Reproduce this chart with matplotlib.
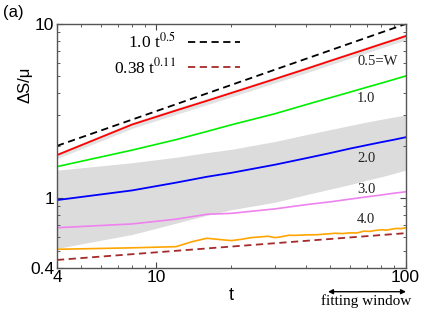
import numpy as np
import matplotlib
matplotlib.use("Agg")
import matplotlib.pyplot as plt
from matplotlib.ticker import FixedLocator, NullFormatter

plt.rcParams['font.family'] = ['Liberation Sans', 'DejaVu Sans']
plt.rcParams['mathtext.fontset'] = 'stix'

# data
t_grid = [4, 8, 12, 16, 20, 30, 40, 50, 60, 70, 80, 90, 100]
red = [1.77, 2.65, 3.19, 3.63, 4.02, 4.84, 5.53, 6.15, 6.70, 7.20, 7.67, 8.10, 8.52]
green = [1.52, 1.89, 2.17, 2.42, 2.64, 3.06, 3.45, 3.78, 4.07, 4.34, 4.58, 4.81, 5.03]
blue = [0.977, 1.11, 1.23, 1.33, 1.40, 1.56, 1.70, 1.82, 1.93, 2.02, 2.10, 2.17, 2.24]
violet = [0.678, 0.713, 0.759, 0.81, 0.82, 0.87, 0.92, 0.955, 0.99, 1.02, 1.045, 1.07, 1.09]
band_hi = [1.45, 1.60, 1.72, 1.83, 1.91, 2.12, 2.32, 2.48, 2.62, 2.74, 2.84, 2.93, 3.00]
band_lo = [0.516, 0.62, 0.72, 0.80, 0.86, 0.95, 1.05, 1.13, 1.20, 1.27, 1.33, 1.39, 1.45]
red_hi = [1.82, 2.73, 3.29, 3.74, 4.14, 4.98, 5.70, 6.33, 6.90, 7.42, 7.90, 8.34, 8.78]
red_lo = [1.69, 2.52, 3.03, 3.45, 3.82, 4.60, 5.25, 5.84, 6.37, 6.84, 7.29, 7.70, 8.09]

t_orange = [4, 8, 12, 14, 16, 18, 20, 22, 24, 26, 28, 30, 32, 34, 36, 40, 44, 48,
            52, 56, 60, 64, 68, 72, 76, 80, 84, 88, 92, 96, 100]
orange = [0.51, 0.52, 0.528, 0.565, 0.59, 0.58, 0.572, 0.582, 0.595, 0.60, 0.606, 0.595,
          0.603, 0.614, 0.613, 0.617, 0.618, 0.624, 0.63, 0.628, 0.634, 0.633, 0.648, 0.646,
          0.655, 0.66, 0.657, 0.665, 0.672, 0.67, 0.678]

fit_t = [4, 100]
fit_black = [2.0, 10.0]
fit_brown = [0.443, 0.631]

curve_labels = ['0.5=W', '1.0', '2.0', '3.0', '4.0']
label_y = [6.08, 3.76, 1.70, 1.127, 0.759]

fig = plt.figure(figsize=(4.24, 3.10), dpi=100)
ax = fig.add_axes([0.1344, 0.1365, 0.822, 0.786])

ax.fill_between(t_grid, band_lo, band_hi, color='#dcdcdc', lw=0)
ax.fill_between(t_grid, red_lo, red_hi, color='#e2e2e2', lw=0)

ax.plot(fit_t, fit_black, color='black', lw=1.3, dashes=(4, 2.5), label='1.0 t$^{0.5}$')
ax.plot(fit_t, fit_brown, color='#a52a2a', lw=1.3, dashes=(4, 2.5), label='0.38 t$^{0.11}$')
ax.plot(t_grid, red, color='#ff0000', lw=1.3)
ax.plot(t_grid, green, color='#00ee00', lw=1.2)
ax.plot(t_grid, blue, color='#0000ff', lw=1.3)
ax.plot(t_grid, violet, color='#ee82ee', lw=1.2)
ax.plot(t_orange, orange, color='#ffa500', lw=1.2)

for lab, y in zip(curve_labels, label_y):
    ax.text(64, y, lab, family='Liberation Serif', fontsize=10.5, va='center', ha='left',
            color='#222222')

ax.set_xscale('log')
ax.set_yscale('log')
ax.set_xlim(4, 100)
ax.set_ylim(0.4, 10)

ax.xaxis.set_major_locator(FixedLocator([4, 10, 100]))
ax.xaxis.set_minor_locator(FixedLocator([5, 6, 7, 8, 9, 20, 30, 40, 50, 60, 70, 80, 90]))
ax.set_xticklabels(['4', '10', '100'])
ax.xaxis.set_minor_formatter(NullFormatter())
ax.yaxis.set_major_locator(FixedLocator([0.4, 1, 10]))
ax.yaxis.set_minor_locator(FixedLocator([0.5, 0.6, 0.7, 0.8, 0.9, 2, 3, 4, 5, 6, 7, 8, 9]))
ax.set_yticklabels(['0.4', '1', '10'])
ax.yaxis.set_minor_formatter(NullFormatter())

ax.tick_params(which='both', direction='in', top=True, right=True, color='#444444')
ax.tick_params(which='major', length=4, labelsize=12.5, pad=2)
ax.tick_params(which='minor', length=2)
for s in ax.spines.values():
    s.set_color('#555555')
    s.set_linewidth(1.0)

ax.legend(loc='upper right', bbox_to_anchor=(240 / 424, 1 - 32 / 310),
          bbox_transform=fig.transFigure, frameon=False, markerfirst=False,
          handlelength=3.0, handletextpad=0.7, labelspacing=0.3, borderpad=0,
          borderaxespad=0, prop={'family': 'Liberation Serif', 'size': 12.5})

fig.text(25 / 424, 1 - 85 / 310, 'ΔS/μ', rotation=90, ha='center', va='center', fontsize=12)
fig.text(231 / 424, 1 - 295 / 310, 't', ha='center', va='center', fontsize=13)
fig.text(3 / 424, 1 - 13 / 310, '(a)', ha='left', va='center', fontsize=12)

ax.annotate('', xy=(406 / 424, 1 - 291.7 / 310), xytext=(328 / 424, 1 - 291.7 / 310),
            xycoords='figure fraction', textcoords='figure fraction',
            arrowprops=dict(arrowstyle='<|-|>', color='black', lw=1.0,
                            mutation_scale=7, shrinkA=0, shrinkB=0))
fig.text(366 / 424, 1 - 301.5 / 310, 'fitting window', family='Liberation Serif',
         fontsize=11, ha='center', va='center')

fig.savefig('out.png', dpi=100)
